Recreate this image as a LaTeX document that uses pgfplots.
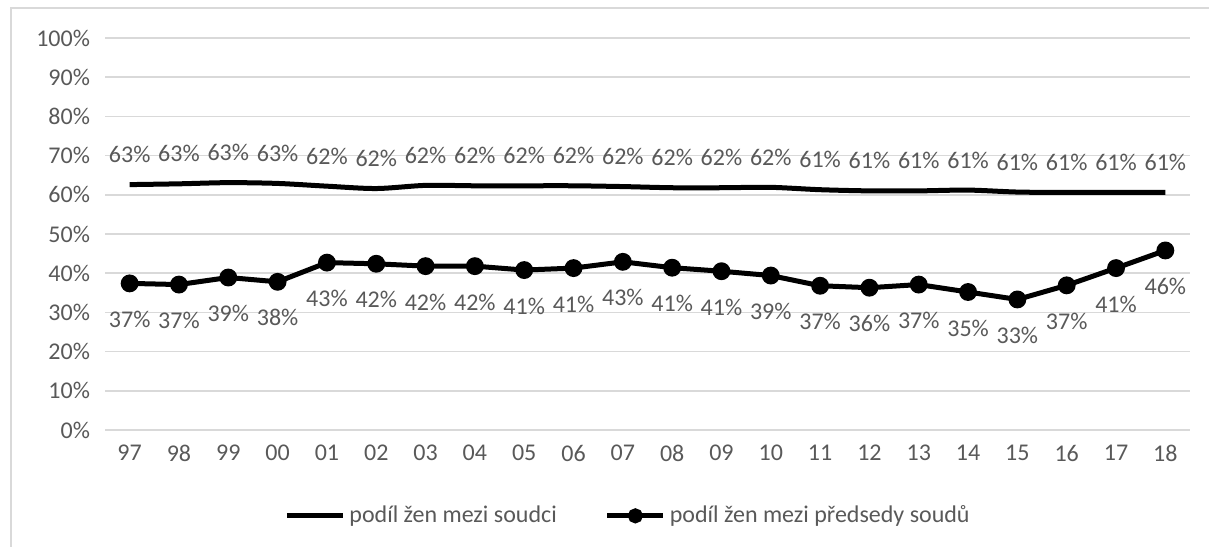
\documentclass[border=0pt]{standalone}
\usepackage{pgfplots}
\pgfplotsset{compat=1.18}
\usepackage{fontspec}
\setmainfont{Carlito}
\definecolor{txt}{HTML}{595959}
\definecolor{gridc}{HTML}{D9D9D9}
\begin{document}
\begin{tikzpicture}
\useasboundingbox (0,0) rectangle (604.5pt,273pt);
\draw[gridc, line width=1pt] (5.5pt,-10pt) -- (5.5pt,269pt) -- (620pt,269pt);
\begin{axis}[
  at={(52.5pt,58pt)}, anchor=south west,
  scale only axis, width=542.5pt, height=196pt,
  xmin=-0.5, xmax=21.5, ymin=0, ymax=100,
  xtick={0,...,21},
  xticklabels={97,98,99,00,01,02,03,04,05,06,07,08,09,10,11,12,13,14,15,16,17,18},
  ytick={0,10,...,100},
  yticklabel={\pgfmathprintnumber{\tick}\%},
  /pgf/number format/assume math mode=true,
  axis line style={draw=none},
  tick style={draw=none},
  xmajorgrids=false, ymajorgrids=true,
  major grid style={draw=gridc, line width=0.8pt},
  tick label style={font=\fontsize{12}{14}\selectfont, text=txt},
  xticklabel style={yshift=-4pt},
  yticklabel style={xshift=-4pt},
  legend style={at={(0.483,-0.219)}, anchor=center, draw=none, legend columns=2,
    font=\fontsize{12}{14}\selectfont, text=txt,
    /tikz/every even column/.append style={column sep=22pt}},
  legend image code/.code={\draw[#1] (0pt,0pt) -- (28pt,0pt);
    \draw[#1, draw=none, mark size=2.5pt] plot coordinates {(14pt,0pt)};},
  nodes near coords={\pgfmathprintnumber[fixed,precision=0]{\pgfplotspointmeta}\%},
  nodes near coords style={font=\fontsize{12}{14}\selectfont, text=txt, anchor=center},
]
\addplot[black, line width=2.5pt, smooth, tension=0.5, mark=none,
  every node near coord/.append style={yshift=15pt}] coordinates {
(0,62.6) (1,62.8) (2,63.1) (3,62.9) (4,62.2) (5,61.6) (6,62.4) (7,62.3) (8,62.3) (9,62.3) (10,62.1)
(11,61.8) (12,61.8) (13,61.9) (14,61.3) (15,61.0) (16,61.0) (17,61.2) (18,60.7) (19,60.6) (20,60.6) (21,60.6)};
\addlegendentry{podíl žen mezi soudci}
\addplot[black, line width=2.5pt, mark=*, mark size=3.2pt, mark options={solid},
  every node near coord/.append style={yshift=-18pt}] coordinates {
(0,37.4) (1,37.1) (2,38.9) (3,37.8) (4,42.7) (5,42.4) (6,41.8) (7,41.8) (8,40.8) (9,41.3) (10,42.9)
(11,41.4) (12,40.5) (13,39.4) (14,36.8) (15,36.3) (16,37.1) (17,35.2) (18,33.3) (19,36.9) (20,41.3) (21,45.8)};
\addlegendentry{podíl žen mezi předsedy soudů}
\end{axis}
\end{tikzpicture}
\end{document}
